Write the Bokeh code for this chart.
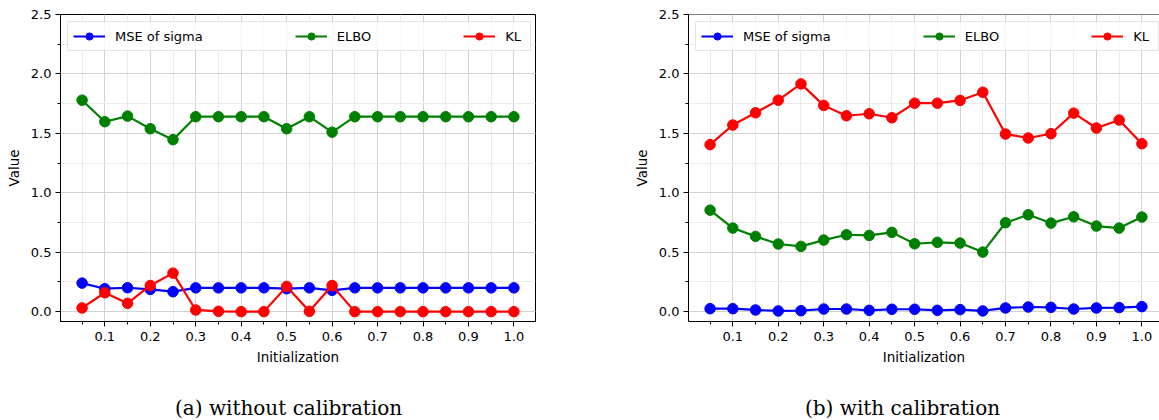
from bokeh.plotting import figure
from bokeh.layouts import row, column
from bokeh.models import FixedTicker, PrintfTickFormatter, Legend, LegendItem, Span, Div
from bokeh.embed import file_html
from bokeh.resources import INLINE

# ---------------- data ----------------
init = [0.05, 0.10, 0.15, 0.20, 0.25, 0.30, 0.35, 0.40, 0.45, 0.50,
        0.55, 0.60, 0.65, 0.70, 0.75, 0.80, 0.85, 0.90, 0.95, 1.00]

# (a) without calibration
mse_a = [0.240, 0.193, 0.201, 0.187, 0.168, 0.200, 0.200, 0.200, 0.200, 0.193,
         0.200, 0.179, 0.200, 0.200, 0.200, 0.200, 0.200, 0.200, 0.200, 0.200]
elbo_a = [1.779, 1.598, 1.645, 1.539, 1.447, 1.640, 1.640, 1.640, 1.640, 1.539,
          1.640, 1.510, 1.640, 1.640, 1.640, 1.640, 1.640, 1.640, 1.640, 1.640]
kl_a = [0.031, 0.159, 0.070, 0.220, 0.324, 0.014, 0.003, 0.000, 0.000, 0.212,
        0.003, 0.220, 0.000, 0.000, 0.000, 0.000, 0.000, 0.000, 0.000, 0.000]

# (b) with calibration
mse_b = [0.025, 0.025, 0.014, 0.006, 0.008, 0.022, 0.022, 0.011, 0.020, 0.020,
         0.011, 0.017, 0.006, 0.031, 0.039, 0.036, 0.022, 0.031, 0.034, 0.042]
elbo_b = [0.854, 0.703, 0.633, 0.569, 0.549, 0.602, 0.647, 0.641, 0.667, 0.571,
          0.583, 0.577, 0.501, 0.748, 0.815, 0.745, 0.798, 0.720, 0.703, 0.796]
kl_b = [1.405, 1.570, 1.673, 1.779, 1.916, 1.735, 1.648, 1.665, 1.631, 1.754,
        1.754, 1.777, 1.846, 1.494, 1.461, 1.497, 1.670, 1.545, 1.612, 1.413]

series_names = ["MSE of sigma", "ELBO", "KL"]
series_colors = ["#0000ff", "#008000", "#ff0000"]

x_major = [0.1, 0.2, 0.3, 0.4, 0.5, 0.6, 0.7, 0.8, 0.9, 1.0]
x_minor = init
y_major = [0.0, 0.5, 1.0, 1.5, 2.0, 2.5]
y_minor = [0.0, 0.25, 0.5, 0.75, 1.0, 1.25, 1.5, 1.75, 2.0, 2.25, 2.5]

captions = ["(a) without calibration", "(b) with calibration"]

FONT = "DejaVu Sans"


def make_panel(series, width, border_left, border_right, x_end, full_outline):
    p = figure(width=width, height=378, x_range=(0.0025, x_end),
               y_range=(-0.083, 2.5), output_backend="svg",
               toolbar_location=None, min_border_left=border_left,
               min_border_right=border_right, min_border_top=14,
               min_border_bottom=57)
    p.background_fill_color = "white"
    p.border_fill_color = "white"
    if full_outline:
        p.outline_line_color = "black"
        p.outline_line_width = 1
    else:
        p.outline_line_color = None
        p.add_layout(Span(location=2.5, dimension="width",
                          line_color="black", line_width=1.2))

    p.xaxis.ticker = FixedTicker(ticks=x_major, minor_ticks=x_minor)
    p.yaxis.ticker = FixedTicker(ticks=y_major, minor_ticks=y_minor)
    for ax in (p.xaxis, p.yaxis):
        ax.formatter = PrintfTickFormatter(format="%.1f")
        ax.axis_line_color = "black"
        ax.major_tick_line_color = "black"
        ax.minor_tick_line_color = "black"
        ax.major_tick_in = 0
        ax.major_tick_out = 5
        ax.minor_tick_in = 0
        ax.minor_tick_out = 3
        ax.major_label_text_font = FONT
        ax.major_label_text_font_size = "13px"
        ax.major_label_text_color = "black"
        ax.axis_label_text_font = FONT
        ax.axis_label_text_font_size = "13.5px"
        ax.axis_label_text_font_style = "normal"
        ax.axis_label_text_color = "black"
    p.xaxis.major_label_standoff = 5
    p.yaxis.major_label_standoff = 4
    p.xaxis.axis_label = "Initialization"
    p.yaxis.axis_label = "Value"
    p.xaxis.axis_label_standoff = 5
    p.yaxis.axis_label_standoff = 6

    for g in (p.xgrid, p.ygrid):
        g.grid_line_color = "#d2d2d2"
        g.grid_line_width = 1
        g.minor_grid_line_color = "#ebebeb"
        g.minor_grid_line_width = 1
    p.xgrid.ticker = FixedTicker(ticks=x_major, minor_ticks=x_minor)
    p.ygrid.ticker = FixedTicker(ticks=y_major, minor_ticks=y_minor)

    items = []
    for name, color, vals in zip(series_names, series_colors, series):
        ln = p.line(init, vals, line_color=color, line_width=2.2)
        sc = p.scatter(init, vals, marker="circle", size=10.5,
                       fill_color=color, line_color=color)
        items.append(LegendItem(label=name, renderers=[ln, sc]))

    legend = Legend(items=items, orientation="horizontal",
                    location="top_left", margin=7, padding=5,
                    spacing=92, glyph_width=32, glyph_height=18,
                    label_standoff=10, label_text_font=FONT,
                    label_text_font_size="13px", label_text_color="black",
                    border_line_color="#cccccc", border_line_width=1,
                    background_fill_color="white", background_fill_alpha=0.8)
    p.add_layout(legend, "center")
    return p


def make_caption(text, width, left):
    html = ('<div style="margin:20px 0 0 %dpx; font-family:\'DejaVu Serif\';'
            ' font-size:20px; line-height:20px; color:black;'
            ' white-space:nowrap;">%s</div>' % (left, text))
    return Div(text=html, width=width, height=42, margin=0)


pa = make_panel([mse_a, elbo_a, kl_a], 590, 60, 55, 1.0475, True)
pb = make_panel([mse_b, elbo_b, kl_b], 569, 98, 0, 1.0388, False)

ca = make_caption(captions[0], 590, 175)
cb = make_caption(captions[1], 569, 215)

layout = column(row(pa, pb), row(ca, cb), spacing=0)
open("out.html", "w").write(file_html(layout, INLINE))
